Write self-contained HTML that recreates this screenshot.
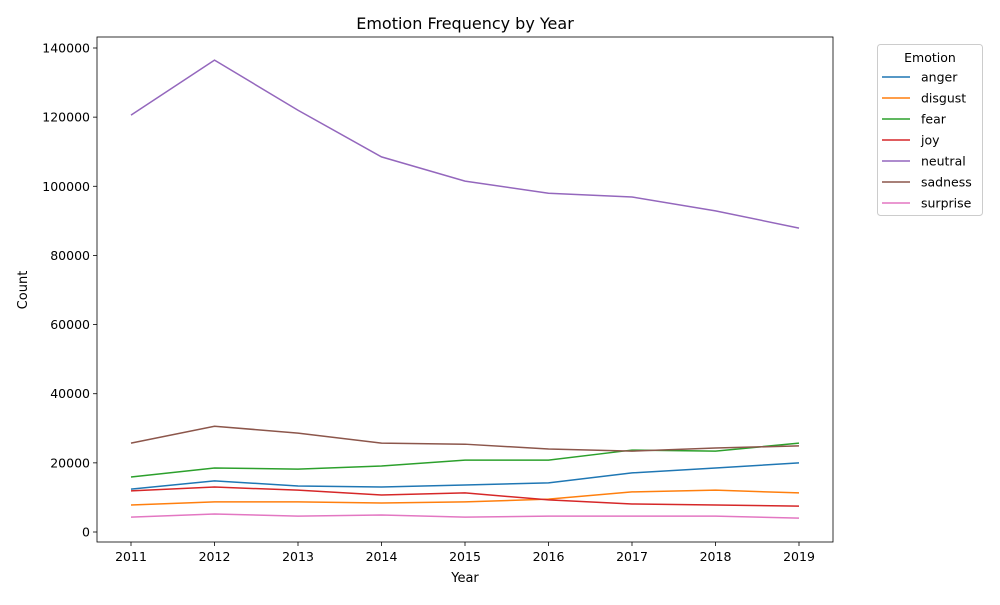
<!DOCTYPE html>
<html><head><meta charset="utf-8"><style>
body{margin:0;background:#fff;font-family:"Liberation Sans","DejaVu Sans",sans-serif;}
text{font-family:"DejaVu Sans","Liberation Sans",sans-serif;}
</style></head><body>
<svg id="chart" width="1000" height="600" xmlns="http://www.w3.org/2000/svg"></svg>
<script>
const years = [2011,2012,2013,2014,2015,2016,2017,2018,2019];
const yTicks = [0,20000,40000,60000,80000,100000,120000,140000];
const seriesNames = ["anger","disgust","fear","joy","neutral","sadness","surprise"];
const seriesColors = ["#1f77b4","#ff7f0e","#2ca02c","#d62728","#9467bd","#8c564b","#e377c2"];
const anger = [12400,14800,13300,13000,13600,14200,17100,18500,20000];
const disgust = [7800,8700,8700,8400,8700,9500,11600,12100,11300];
const fear = [15900,18500,18200,19100,20800,20800,23700,23400,25700];
const joy = [11900,13000,12100,10700,11300,9300,8100,7800,7500];
const neutral = [120600,136500,122000,108500,101500,98000,96900,92900,87900];
const sadness = [25700,30600,28600,25700,25400,24000,23400,24300,24900];
const surprise = [4300,5200,4600,4900,4300,4600,4600,4600,4000];
const seriesData = [anger,disgust,fear,joy,neutral,sadness,surprise];

const svg = document.getElementById('chart');
const NS = "http://www.w3.org/2000/svg";
const L=97,R=833,T=37,B=542;
const xS = y => 131 + (y-2011)*(799-131)/8;
const yS = v => 532 - v*(532-48)/140000;
function mk(tag, attrs, parent){const e=document.createElementNS(NS,tag);for(const k in attrs)e.setAttribute(k,attrs[k]);(parent||svg).appendChild(e);return e;}

const title = mk('text',{x:465,y:29,'text-anchor':'middle','font-size':16,fill:'#000'});


title.textContent='Emotion Frequency by Year';

years.forEach(yr=>{
  const x=xS(yr);
  const t=mk('line',{x1:x,x2:x,y1:B,y2:B+4,stroke:'#000','stroke-width':0.8});
  
  
  const lb=mk('text',{x:x,y:B+19,'text-anchor':'middle','font-size':12.5});
  
  
  lb.textContent=yr;
});
yTicks.forEach(v=>{
  const y=yS(v);
  const t=mk('line',{x1:L-4,x2:L,y1:y,y2:y,stroke:'#000','stroke-width':0.8});
  
  
  const lb=mk('text',{x:L-7,y:y+4.5,'text-anchor':'end','font-size':12.5});
  
  
  lb.textContent=v;
});
const xt=mk('text',{x:465,y:582,'text-anchor':'middle','font-size':13});


xt.textContent='Year';
const yt=mk('text',{x:27,y:290,'text-anchor':'middle','font-size':13,transform:'rotate(-90 27 290)'});


yt.textContent='Count';

seriesData.forEach((d,i)=>{
  const p=mk('polyline',{points:d.map((v,j)=>xS(years[j])+','+yS(v)).join(' '),fill:'none',stroke:seriesColors[i],'stroke-width':1.5});
  
  
});

const frame=mk('rect',{x:L,y:T,width:R-L,height:B-T,fill:'none',stroke:'#000','stroke-width':0.8});



const lg=mk('g',{});


mk('rect',{x:877.5,y:44.5,width:105,height:171,rx:3,fill:'#fff',stroke:'#ccc'},lg);
const lt=mk('text',{x:930,y:62,'text-anchor':'middle','font-size':12.5},lg);
lt.textContent='Emotion';
seriesNames.forEach((n,i)=>{
  const y=77+i*21;
  const e=mk('g',{},lg);
  
  
  mk('line',{x1:882,x2:910,y1:y,y2:y,stroke:seriesColors[i],'stroke-width':1.5},e);
  const tx=mk('text',{x:921,y:y+4.5,'font-size':12.5},e);
  tx.textContent=n;
});
</script>
</body></html>
